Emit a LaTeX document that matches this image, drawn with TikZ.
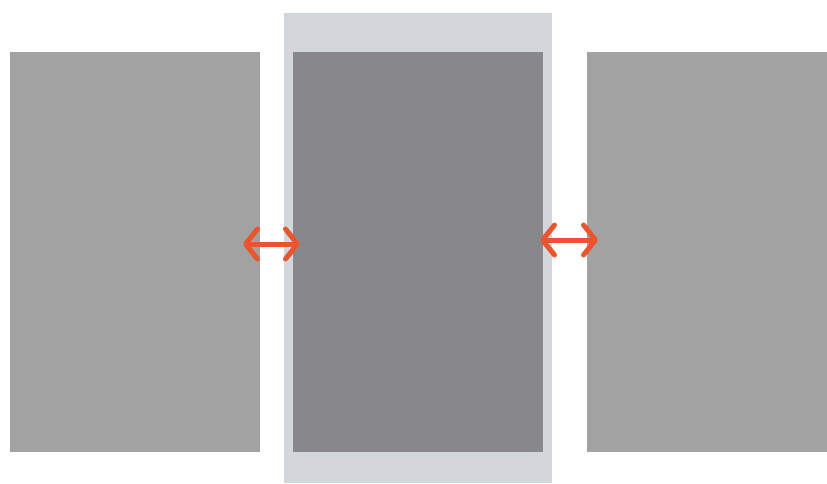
\documentclass[tikz,border=0pt]{standalone}
\usetikzlibrary{arrows.meta}
\definecolor{panelgray}{HTML}{A2A2A2}
\definecolor{activegray}{HTML}{88888C}
\definecolor{bandgray}{HTML}{D3D6DA}
\definecolor{swaporange}{HTML}{E8552F}
\tikzset{
  panel/.style={fill=panelgray,draw=none,inner sep=0pt,minimum width=#1,minimum height=400pt},
  swap/.style={draw=swaporange,line width=5pt,line cap=round,line join=round,
    {Straight Barb[length=12pt,width=30pt,round]}-{Straight Barb[length=12pt,width=30pt,round]}}
}
\begin{document}
\begin{tikzpicture}[x=1pt,y=-1pt]
  \useasboundingbox (0,0) rectangle (827,483);

  % 中间高亮底板
  \fill[bandgray] (284,13) rectangle (552,483);

  % 三个面板
  \node[panel=250pt,anchor=north west] (left) at (10,52) {};
  \node[panel=250pt,anchor=north west,fill=activegray] (mid) at (293,52) {};
  \node[panel=240pt,anchor=north west] (right) at (587,52) {};

  % 箭头端点
  \coordinate (L1) at (243,244);
  \coordinate (L2) at (300,244);
  \coordinate (R1) at (540,240);
  \coordinate (R2) at (598,240);

  % 双向箭头
  \draw[swap] (L1) -- (L2);
  \draw[swap] (R1) -- (R2);
\end{tikzpicture}
\end{document}
